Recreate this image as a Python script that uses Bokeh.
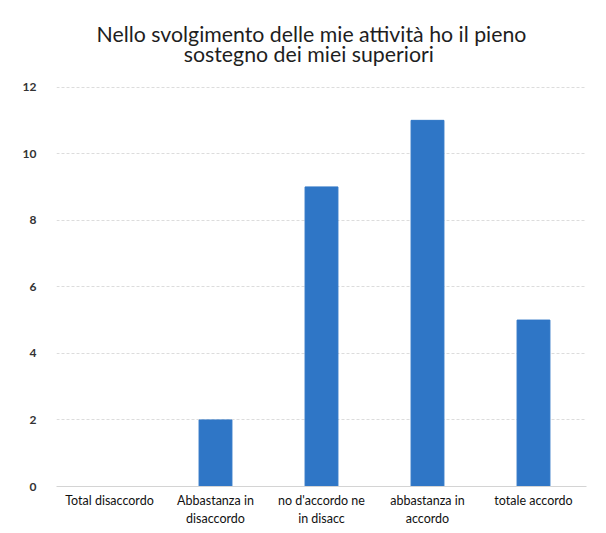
from bokeh.plotting import figure
from bokeh.models import FixedTicker, Range1d, Label
from bokeh.embed import file_html
from bokeh.resources import INLINE

categories = ["Total disaccordo", "Abbastanza in\ndisaccordo", "no d'accordo ne\nin disacc",
              "abbastanza in\naccordo", "totale accordo"]
values = [0, 2, 9, 11, 5]
y_ticks = [0, 2, 4, 6, 8, 10, 12]
title_lines = ["Nello svolgimento delle mie attività ho il pieno", "sostegno dei miei superiori"]

# y range extends above 12 to leave room for the title inside the frame
p = figure(x_range=categories, y_range=Range1d(0, 14), width=590, height=528,
           output_backend="svg", toolbar_location=None,
           min_border_left=56, min_border_right=4, min_border_top=20, min_border_bottom=4)

for line, tx, ty in zip(title_lines, [2.405, 2.38], [13.59, 12.98]):
    p.add_layout(Label(x=tx, y=ty, text=line, text_align="center", text_baseline="alphabetic",
                       text_font="Lato", text_font_size="21.3px", text_color="#1e1e1e"))

p.vbar(x=categories, top=values, width=0.31, color="#2F76C6")

p.yaxis.ticker = FixedTicker(ticks=y_ticks)
p.yaxis.axis_line_color = None
p.yaxis.major_tick_line_color = None
p.yaxis.minor_tick_line_color = None
p.yaxis.major_label_text_font = "Lato"
p.yaxis.major_label_text_font_size = "12px"
p.yaxis.major_label_text_font_style = "bold"
p.yaxis.major_label_text_color = "#333333"
p.yaxis.major_label_standoff = 14

p.xaxis.axis_line_color = "#d4d4d4"
p.xaxis.major_tick_line_color = None
p.xaxis.minor_tick_line_color = None
p.xaxis.major_label_text_font = "Lato"
p.xaxis.major_label_text_font_size = "12.5px"
p.xaxis.major_label_text_color = "#111111"
p.xaxis.major_label_standoff = 0

p.xgrid.grid_line_color = None
p.ygrid.grid_line_color = "#dcdcdc"
p.ygrid.grid_line_dash = "3 2"
p.outline_line_color = None
p.border_fill_color = "white"
p.background_fill_color = "white"
p.x_range.range_padding = 0.0

open("out.html", "w").write(file_html(p, INLINE))
